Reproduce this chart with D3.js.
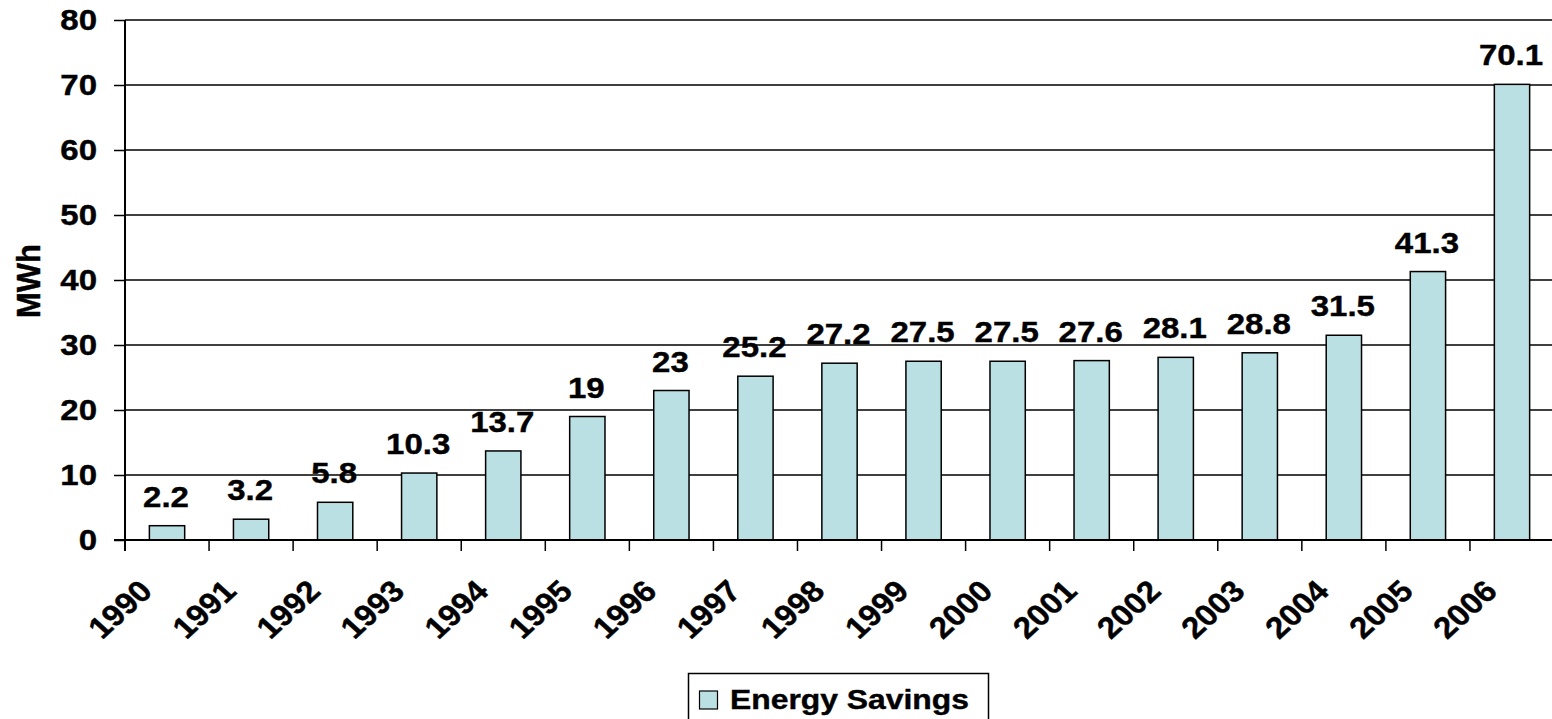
<!DOCTYPE html>
<html>
<head>
<meta charset="utf-8">
<script src="https://cdn.jsdelivr.net/npm/d3@7"></script>
<style>
  body { margin: 0; background: #fff; }
  text { font-family: "Liberation Sans", Arial, sans-serif; font-weight: bold; fill: #000; stroke: #000; stroke-width: 0.4px; }
</style>
</head>
<body>
<div id="chart"></div>
<script>
"use strict";

//********************************* DATA *********************************
var years   = ["1990","1991","1992","1993","1994","1995","1996","1997","1998",
               "1999","2000","2001","2002","2003","2004","2005","2006"];
var savings = [2.2, 3.2, 5.8, 10.3, 13.7, 19, 23, 25.2, 27.2,
               27.5, 27.5, 27.6, 28.1, 28.8, 31.5, 41.3, 70.1];
var yTicks  = [0, 10, 20, 30, 40, 50, 60, 70, 80];
var seriesName = "Energy Savings";
var axisTitle  = "MWh";

//********************************* LAYOUT *********************************
var W = 1552, H = 719;
var plotLeft = 125, plotTop = 20, plotBottom = 540;
var step = 84.06;                       //width of one category slot
var plotRight = plotLeft + step * years.length;
var barColor = "#BBE0E3";
var sx = 1.1;                           //the original text is a bit wider than Arial

var svg = d3.select("#chart").append("svg")
            .attr("width", W)
            .attr("height", H);

var x = d3.scaleBand().domain(years).range([plotLeft, plotRight]).paddingInner(0.58).paddingOuter(0.29);
var y = d3.scaleLinear().domain([0, 80]).range([plotBottom, plotTop]);

//gridlines
svg.append("g").selectAll("line")
   .data(yTicks.filter(function(d){ return d > 0; }))
   .enter().append("line")
     .attr("x1", plotLeft).attr("x2", W + 10)
     .attr("y1", function(d){ return y(d); })
     .attr("y2", function(d){ return y(d); })
     .attr("stroke", "#000")
     .attr("stroke-width", 1.3);

//bars
svg.append("g").selectAll("rect")
   .data(savings)
   .enter().append("rect")
     .attr("x", function(d, i){ return x(years[i]); })
     .attr("y", function(d){ return y(d); })
     .attr("width", x.bandwidth())
     .attr("height", function(d){ return y(0) - y(d); })
     .attr("fill", barColor)
     .attr("stroke", "#000")
     .attr("stroke-width", 1.5);

//value labels above bars
svg.append("g").selectAll("text")
   .data(savings)
   .enter().append("text")
     .attr("transform", function(d, i){
        return "translate(" + (x(years[i]) + x.bandwidth() / 2 - 1) + "," + (y(d) - 19) + ") scale(" + sx + ",1)";
     })
     .attr("text-anchor", "middle")
     .style("font-size", "30px")
     .text(function(d){ return d; });

//y axis
var yAxis = d3.axisLeft(y).tickValues(yTicks).tickSize(11).tickPadding(16);
var gy = svg.append("g").attr("transform", "translate(" + plotLeft + ",0)").call(yAxis);
gy.select(".domain").attr("stroke", "#000").attr("stroke-width", 2).attr("d", "M0," + (plotBottom + 11) + "V" + plotTop);
gy.selectAll(".tick line").attr("stroke", "#000").attr("stroke-width", 1.5);
gy.selectAll(".tick text")
  .attr("x", -28 / sx)
  .attr("transform", "scale(" + sx + ",1)")
  .style("font-size", "30px")
  .style("font-family", "'Liberation Sans', Arial, sans-serif")
  .style("font-weight", "bold")
  .attr("fill", "#000");

//x axis baseline and ticks at slot boundaries
svg.append("line")
   .attr("x1", plotLeft - 11).attr("x2", W + 10)
   .attr("y1", plotBottom).attr("y2", plotBottom)
   .attr("stroke", "#000").attr("stroke-width", 2);

svg.append("g").selectAll("line")
   .data(years)
   .enter().append("line")
     .attr("x1", function(d){ return x(d) - x.step() * 0.29; })
     .attr("x2", function(d){ return x(d) - x.step() * 0.29; })
     .attr("y1", plotBottom).attr("y2", plotBottom + 11)
     .attr("stroke", "#000").attr("stroke-width", 1.5);

//rotated year labels
svg.append("g").selectAll("text")
   .data(years)
   .enter().append("text")
     .attr("text-anchor", "end")
     .style("font-size", "30px")
     .attr("transform", function(d){
        var tx = x(d) - x.step() * 0.29 + 29;
        return "translate(" + tx + ",593) scale(" + sx + ",1) rotate(-45)";
     })
     .text(function(d){ return d; });

//axis title
svg.append("text")
   .attr("transform", "translate(40,281) scale(" + sx + ",1) rotate(-90)")
   .attr("text-anchor", "middle")
   .style("font-size", "31px")
   .text(axisTitle);

//legend
var lg = svg.append("g");
lg.append("rect")
  .attr("x", 688.5).attr("y", 673.5)
  .attr("width", 300).attr("height", 54)
  .attr("fill", "#fff").attr("stroke", "#000").attr("stroke-width", 1.5);
lg.append("rect")
  .attr("x", 699.5).attr("y", 691)
  .attr("width", 18).attr("height", 18)
  .attr("fill", barColor).attr("stroke", "#000").attr("stroke-width", 1.2);
lg.append("text")
  .attr("x", 730).attr("y", 709)
  .style("font-size", "27px")
  .attr("textLength", 239)
  .attr("lengthAdjust", "spacingAndGlyphs")
  .text(seriesName);
</script>
</body>
</html>
